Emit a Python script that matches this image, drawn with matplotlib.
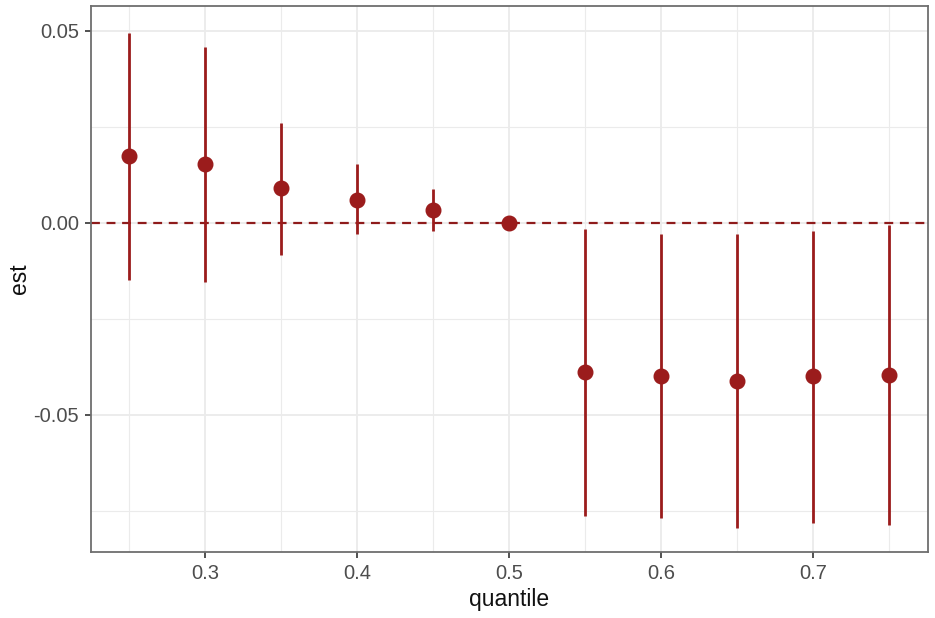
import matplotlib
matplotlib.use("Agg")
import matplotlib.pyplot as plt
from matplotlib.ticker import FixedLocator

# ── Data ──────────────────────────────────────────────────────────────────────

quantile = [0.25, 0.30, 0.35, 0.40, 0.45, 0.50, 0.55, 0.60, 0.65, 0.70, 0.75]
est      = [0.0175, 0.0154, 0.0091, 0.0060, 0.0034, 0.0, -0.0388, -0.0398, -0.0411, -0.0398, -0.0396]
ci_low   = [-0.0148, -0.0154, -0.0083, -0.0029, -0.0021, 0.0, -0.0763, -0.0768, -0.0794, -0.0781, -0.0786]
ci_high  = [0.0495, 0.0458, 0.0260, 0.0154, 0.0089, 0.0, -0.0016, -0.0029, -0.0029, -0.0021, -0.0005]

x_ticks = [0.3, 0.4, 0.5, 0.6, 0.7]
y_ticks = [-0.05, 0.00, 0.05]

# ── Style ─────────────────────────────────────────────────────────────────────

RED    = "#9B1C1C"
DASH   = "#8E1B1B"
GRID   = "#EBEBEB"
BORDER = "#6E6E6E"
TEXT   = "#4D4D4D"

plt.rcParams["font.family"] = ["Liberation Sans", "DejaVu Sans"]

fig = plt.figure(figsize=(9.35, 6.18), dpi=100)
ax = fig.add_axes([0.0973, 0.1068, 0.8952, 0.8835])

ax.set_xlim(0.225, 0.7757)
ax.set_ylim(-0.0857, 0.0565)

ax.xaxis.set_major_locator(FixedLocator(x_ticks))
ax.xaxis.set_minor_locator(FixedLocator([0.25, 0.35, 0.45, 0.55, 0.65, 0.75]))
ax.yaxis.set_major_locator(FixedLocator(y_ticks))
ax.yaxis.set_minor_locator(FixedLocator([-0.075, -0.025, 0.025]))

ax.grid(True, which="major", color=GRID, linewidth=1.3, zorder=0)
ax.grid(True, which="minor", color=GRID, linewidth=0.8, zorder=0)
ax.set_axisbelow(True)

ax.axhline(0, color=DASH, linewidth=1.6, linestyle=(0, (4, 3)), zorder=2)

# error bars + point estimates
ax.vlines(quantile, ci_low, ci_high, color=RED, linewidth=2.0, zorder=3)
ax.plot(quantile, est, linestyle="none", marker="o", markersize=10.5,
        color=RED, markeredgecolor=RED, zorder=4)

ax.set_xticklabels([f"{t:.1f}" for t in x_ticks])
ax.set_yticklabels([f"{t:.2f}" for t in y_ticks])
ax.tick_params(which="major", length=4.5, width=1.2, color="#333333",
               labelsize=14.5, labelcolor=TEXT, pad=4)
ax.tick_params(which="minor", length=0)

for sp in ax.spines.values():
    sp.set_color(BORDER)
    sp.set_linewidth(1.3)

ax.set_xlabel("quantile", fontsize=16.5, color="#111111", labelpad=4)
ax.set_ylabel("est", fontsize=16.5, color="#111111", labelpad=2)

fig.savefig("out.png", dpi=100)
